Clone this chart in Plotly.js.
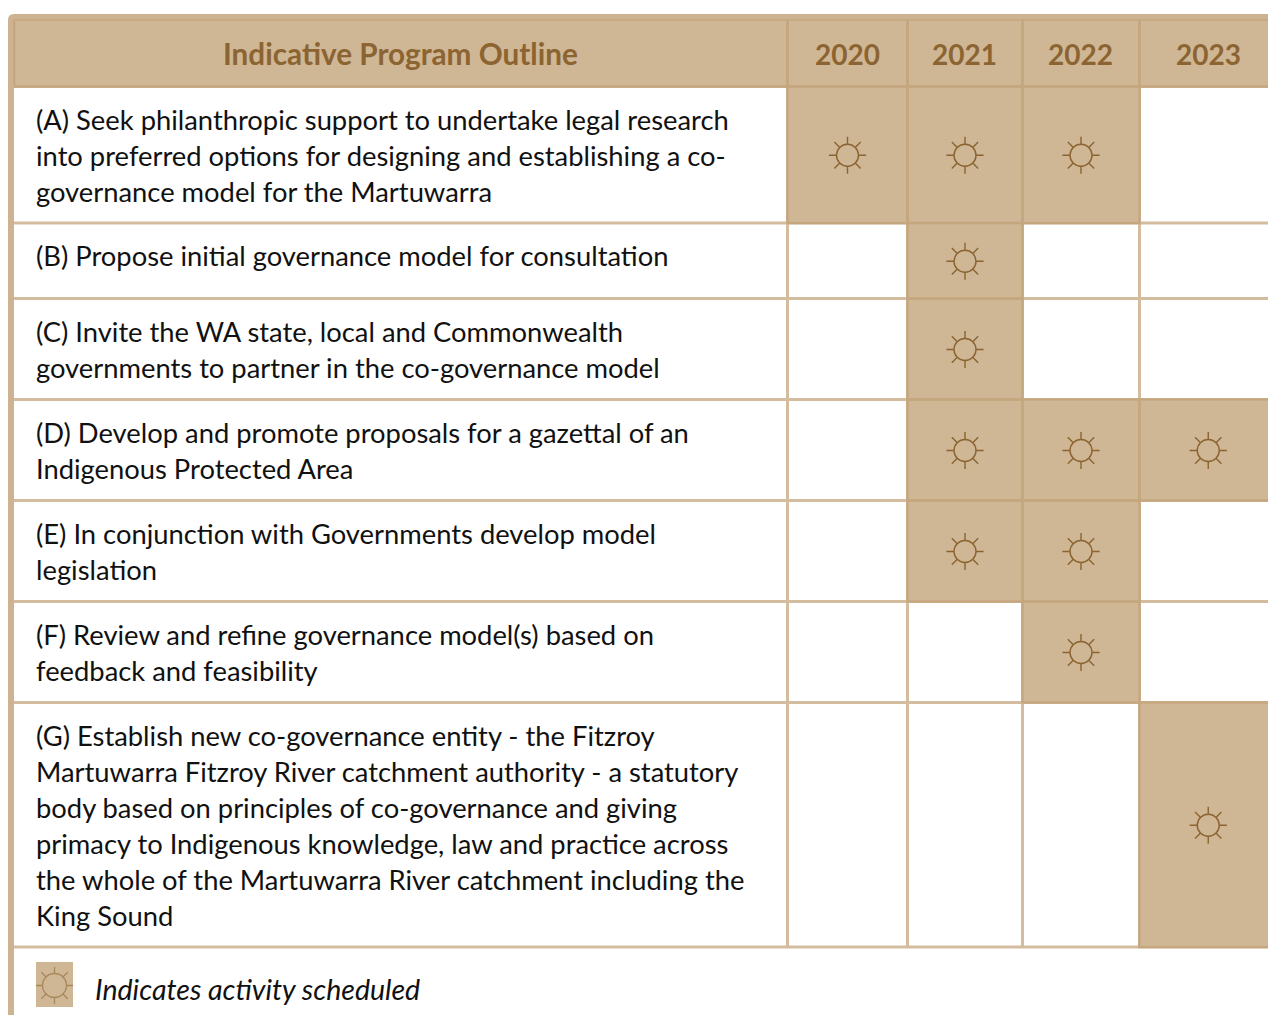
<!DOCTYPE html>
<html>
<head>
<meta charset="utf-8">
<script src="https://cdn.plot.ly/plotly-3.0.1.min.js"></script>
<style>html,body{margin:0;padding:0;background:#fff;overflow:hidden}#chart{width:1268px;height:1015px}</style>
</head>
<body>
<div id="chart"></div>
<script>
// ---------- chart content ----------
var headerTitle = "Indicative Program Outline";
var years = ["2020", "2021", "2022", "2023"];
var activityA = ["(A) Seek philanthropic support to undertake legal research", "into preferred options for designing and establishing a co-", "governance model for the Martuwarra"];
var activityB = ["(B) Propose initial governance model for consultation"];
var activityC = ["(C) Invite the WA state, local and Commonwealth", "governments to partner in the co-governance model"];
var activityD = ["(D) Develop and promote proposals for a gazettal of an", "Indigenous Protected Area"];
var activityE = ["(E) In conjunction with Governments develop model", "legislation"];
var activityF = ["(F) Review and refine governance model(s) based on", "feedback and feasibility"];
var activityG = ["(G) Establish new co-governance entity - the Fitzroy", "Martuwarra Fitzroy River catchment authority - a statutory", "body based on principles of co-governance and giving", "primacy to Indigenous knowledge, law and practice across", "the whole of the Martuwarra River catchment including the", "King Sound"];
var scheduleA = [1, 1, 1, 0];
var scheduleB = [0, 1, 0, 0];
var scheduleC = [0, 1, 0, 0];
var scheduleD = [0, 1, 1, 1];
var scheduleE = [0, 1, 1, 0];
var scheduleF = [0, 0, 1, 0];
var scheduleG = [0, 0, 0, 1];
var legendText = "Indicates activity scheduled";

var activities = [activityA, activityB, activityC, activityD, activityE, activityF, activityG];
var schedule = [scheduleA, scheduleB, scheduleC, scheduleD, scheduleE, scheduleF, scheduleG];

// ---------- table geometry (separate from the content) ----------
var colEdges = [14, 787.5, 907.5, 1022.5, 1139.5, 1277];
var rowEdges = [19, 86.5, 223, 298.5, 399.5, 500.5, 601.5, 702.5, 947];
var FONT = "Lato, 'Noto Sans', sans-serif";
var TEXT_SIZE = 27.35, HEAD_SIZE = 28, TITLE_SIZE = 29.7, LEGEND_SIZE = 28.5, LINE_H = 36, FIRST_LINE = 32.5, TEXT_X = 35;
var TAN = "#CFB695", DARK = "#C5A77F", GRID = "#D4BD9F", BROWN = "#8B6431";

function mid(a, i) { return (a[i] + a[i + 1]) / 2; }

// cells: header row is fully tinted, body rows follow the schedule
var z = [[1, 1, 1, 1, 1]];
schedule.forEach(function (r) { z.push([0].concat(r)); });

var cells = {
  type: "heatmap", x: colEdges, y: rowEdges, z: z, zmin: 0, zmax: 1,
  colorscale: [[0, "#FFFFFF"], [1, TAN]], showscale: false, hoverinfo: "skip", xgap: 0, ygap: 0
};
var swatch = {
  type: "heatmap", x: [36, 73], y: [962, 1007], z: [[1]], zmin: 0, zmax: 1,
  colorscale: [[0, "#FFFFFF"], [1, TAN]], showscale: false, hoverinfo: "skip"
};

// grid lines
var gx = [], gy = [];
colEdges.slice(1, -1).forEach(function (x) { gx.push(x, x, null); gy.push(rowEdges[0], rowEdges[rowEdges.length - 1], null); });
rowEdges.slice(1).forEach(function (y) { gx.push(colEdges[0], colEdges[colEdges.length - 1], null); gy.push(y, y, null); });
var grid = { type: "scatter", mode: "lines", x: gx, y: gy, line: { color: GRID, width: 3 }, hoverinfo: "skip" };

// darker borders round tinted cells
var dx = [], dy = [];
function box(c, r) {
  dx.push(colEdges[c], colEdges[c + 1], colEdges[c + 1], colEdges[c], colEdges[c], null);
  dy.push(rowEdges[r], rowEdges[r], rowEdges[r + 1], rowEdges[r + 1], rowEdges[r], null);
}
z.forEach(function (row, r) { row.forEach(function (v, c) { if (v) box(c, r); }); });
var borders = { type: "scatter", mode: "lines", x: dx, y: dy, line: { color: DARK, width: 2.5 }, hoverinfo: "skip" };

// suns: rays (asterisk) with a tinted disc over their middle
var sx = [], sy = [];
schedule.forEach(function (row, r) {
  row.forEach(function (v, c) {
    if (v) { sx.push(mid(colEdges, c + 1)); sy.push(mid(rowEdges, r + 1) + 0.5); }
  });
});
var rays = {
  type: "scatter", mode: "markers", x: sx, y: sy, hoverinfo: "skip",
  marker: { symbol: "asterisk-open", size: 31, color: BROWN, line: { color: BROWN, width: 1.4 } }
};
var discs = {
  type: "scatter", mode: "markers", x: sx, y: sy, hoverinfo: "skip",
  marker: { symbol: "circle", size: 22, color: TAN, line: { color: BROWN, width: 1.4 } }
};
var legendRays = {
  type: "scatter", mode: "markers", x: [54.5], y: [985.5], hoverinfo: "skip",
  marker: { symbol: "asterisk-open", size: 31, color: "#A8875A", line: { color: "#A8875A", width: 1.3 } }
};
var legendDisc = {
  type: "scatter", mode: "markers", x: [54.5], y: [985.5], hoverinfo: "skip",
  marker: { symbol: "circle", size: 24, color: TAN, line: { color: "#A8875A", width: 1.3 } }
};

// text
var notes = [];
function note(text, x, y, size, color, anchor, extra) {
  notes.push(Object.assign({
    text: text, x: x, y: y, xref: "x", yref: "y", showarrow: false, xanchor: anchor, yanchor: "middle",
    align: anchor, borderpad: 0, font: { family: FONT, size: size, color: color }
  }, extra || {}));
}
note("<b>" + headerTitle + "</b>", 400.5, 53.5, TITLE_SIZE, BROWN, "center");
years.forEach(function (y, i) { note("<b>" + y + "</b>", mid(colEdges, i + 1) + (i === 3 ? 0 : -0.5), 53.5, HEAD_SIZE, BROWN, "center"); });
activities.forEach(function (lines, r) {
  lines.forEach(function (t, k) {
    note(t, TEXT_X, rowEdges[r + 1] + FIRST_LINE + k * LINE_H, TEXT_SIZE, "#111111", "left");
  });
});
note("<i>" + legendText + "</i>", 94, 989, LEGEND_SIZE, "#111111", "left");

var layout = {
  width: 1268, height: 1015, margin: { l: 0, r: 0, t: 0, b: 0 },
  paper_bgcolor: "#FFFFFF", plot_bgcolor: "#FFFFFF", showlegend: false, hovermode: false,
  xaxis: { range: [0, 1268], visible: false, fixedrange: true },
  yaxis: { range: [1015, 0], visible: false, fixedrange: true },
  annotations: notes,
  shapes: [{
    type: "path", layer: "above", xref: "x", yref: "y",
    path: "M 11 1015 L 11 20 Q 11 17 14 17 L 1268 17",
    line: { color: "#CDB391", width: 6 }, fillcolor: "rgba(0,0,0,0)"
  }, {
    type: "path", layer: "above", xref: "x", yref: "y",
    path: "M 14 86 L 14 20 L 1268 20",
    line: { color: DARK, width: 1.5 }, fillcolor: "rgba(0,0,0,0)"
  }]
};

Plotly.newPlot("chart", [cells, swatch, grid, borders, rays, discs, legendRays, legendDisc], layout, { displayModeBar: false, staticPlot: true });
</script>
</body>
</html>
